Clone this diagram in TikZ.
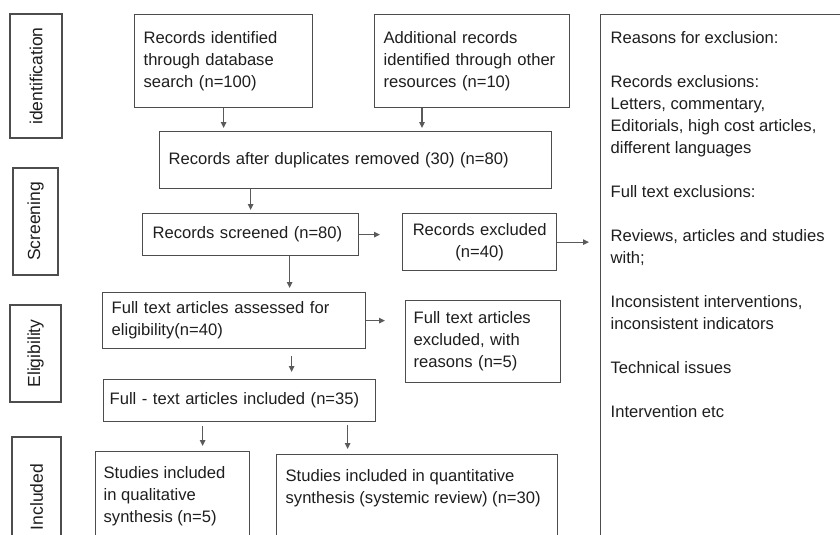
\documentclass[tikz,border=0pt]{standalone}
\usepackage{fontspec}
\newfontfamily\flowfont{Liberation Sans}
\usetikzlibrary{arrows.meta}
\definecolor{linegray}{HTML}{4D4D4D}
\definecolor{arrowgray}{HTML}{5A5A5A}
\definecolor{textgray}{HTML}{1E1E1E}
% box text that starts near the top and runs past the bottom edge
\newcommand{\topbox}[4]{\parbox[t][#2pt][t]{#1pt}{\raggedright\vspace*{#3pt}#4}}

\begin{document}
\begin{tikzpicture}[x=1pt,y=-1pt,
    box/.style={draw=linegray,line width=1.3pt,text=textgray,inner sep=0pt,
      font=\flowfont\fontsize{16.6}{22}\selectfont},
    main box/.style={box,anchor=north west,align=left},
    stage/.style={box,rotate=90,font=\flowfont\fontsize{17.5}{22}\selectfont},
    arr/.style={draw=arrowgray,line width=1.2pt,-{Triangle[length=6pt,width=5.5pt]}}]
  \useasboundingbox (0,0) rectangle (840,535);
  \clip (0,0) rectangle (840,535);

  % stage labels on the left
  \node[stage,minimum width=124,minimum height=52] (ident) at (36,76) {identification};
  \node[stage,minimum width=107,minimum height=45] (screen) at (35.5,221.5) {Screening};
  \node[stage,minimum width=97,minimum height=51] (elig) at (35.5,353.5) {Eligibility};
  \node[stage,minimum width=120,minimum height=49] (incl) at (36.5,497) {Included};

  % identification
  \node[main box,text width=160,inner xsep=9,minimum height=93] (dbsearch) at (134,14)
    {Records identified\\through database\\search (n=100)};
  \node[main box,text width=177,inner xsep=9,minimum height=93] (other) at (374,14)
    {Additional records\\identified through other\\resources (n=10)};
  \node[main box,text width=374,inner xsep=9,minimum height=57] (dup) at (159,131)
    {Records after duplicates removed (30) (n=80)};

  % screening
  \node[main box,text width=196,inner xsep=10,minimum height=42] (screened) at (142,213)
    {Records screened (n=80)};
  \node[main box,align=center,text width=138,inner xsep=8,minimum height=57] (excluded) at (402,213)
    {Records excluded\\(n=40)};

  % eligibility
  \node[main box,text width=245,inner xsep=9,minimum height=56] (assessed) at (102,292)
    {Full text articles assessed for\\eligibility(n=40)};
  \node[main box,text width=139,inner xsep=8,minimum height=82] (ftexcl) at (405,300)
    {Full text articles\\excluded, with\\reasons (n=5)};
  \node[main box,text width=260,inner xsep=6,minimum height=42] (ftincl) at (103,379)
    {Full - text articles included (n=35)};

  % included
  \node[main box,inner xsep=8] (qual) at (95,451)
    {\topbox{138}{110}{14.8}{Studies included\\in qualitative\\synthesis (n=5)}};
  \node[main box,inner xsep=9] (quant) at (276,454)
    {\topbox{263}{110}{14.8}{Studies included in quantitative\\synthesis (systemic review) (n=30)}};

  % reasons
  \node[main box,inner xsep=10] (reasons) at (600,14)
    {\topbox{240}{556}{16.8}{Reasons for exclusion:\\[22pt]
     Records exclusions:\\Letters, commentary,\\Editorials, high cost articles,\\different languages\\[22pt]
     Full text exclusions:\\[22pt]
     Reviews, articles and studies\\with;\\[22pt]
     Inconsistent interventions,\\inconsistent indicators\\[22pt]
     Technical issues\\[22pt]
     Intervention etc}};

  % arrows
  \draw[arr,shorten >=3pt] (dbsearch.south) -- (dbsearch.south |- dup.north);
  \draw[arr,shorten >=3pt] ([xshift=48pt]other.south west) -- ([xshift=48pt]other.south west |- dup.north);
  \draw[arr,shorten >=3pt] (screened.north |- dup.south) -- (screened.north);
  \draw[arr,shorten >=22pt] (screened.east) -- (excluded.west |- screened.east);
  \draw[arr,shorten >=11pt] (excluded.east) -- (reasons.west |- excluded.east);
  \draw[arr,shorten >=4pt] ([xshift=39pt]screened.south) -- ([xshift=39pt]screened.south |- assessed.north);
  \draw[arr,shorten >=20pt] (assessed.east) -- (ftexcl.west |- assessed.east);
  \draw[arr,shorten <=7pt,shorten >=7pt] ([xshift=57.5pt]assessed.south) -- ([xshift=57.5pt]assessed.south |- ftincl.north);
  \draw[arr,shorten <=4pt,shorten >=5pt] ([xshift=-37pt]ftincl.south) -- ([xshift=-37pt]ftincl.south |- qual.north);
  \draw[arr,shorten <=3pt,shorten >=5pt] ([xshift=108pt]ftincl.south) -- ([xshift=108pt]ftincl.south |- quant.north);
\end{tikzpicture}
\end{document}
